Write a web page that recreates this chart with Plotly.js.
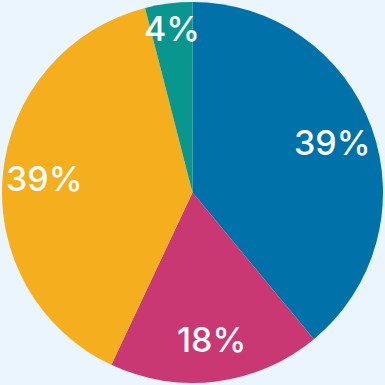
<!DOCTYPE html>
<html>
<head>
<meta charset="utf-8">
<script src="https://cdn.plot.ly/plotly-3.0.1.min.js"></script>
<style>
html,body{margin:0;padding:0;background:#ebf5fd;}
#chart{width:385px;height:385px;}
</style>
</head>
<body>
<div id="chart"></div>
<script>
const categories = ["Category A", "Category B", "Category C", "Category D"];
const values = [39, 18, 39, 4];
const colors = ["#0171a9", "#c93873", "#f4ae1e", "#08968f"];

const trace = {
  type: "pie",
  labels: categories,
  values: values,
  sort: false,
  direction: "clockwise",
  rotation: 0,
  marker: {colors: colors, line: {width: 0}},
  textinfo: "none",
  hoverinfo: "none"
};

// percentage labels placed on each slice's bisector, computed from the values
const total = values.reduce((a, b) => a + b, 0);
let cum = 0;
const annotations = values.map((v, i) => {
  const mid = (cum + v / 2) / total * 2 * Math.PI;
  cum += v;
  const f = v / total < 0.1 ? 0.87 : 0.78;
  return {
    xref: "paper", yref: "paper",
    x: 0.5 + 0.5 * f * Math.sin(mid),
    y: 0.5 + 0.5 * f * Math.cos(mid),
    text: Math.round(v / total * 100) + "%",
    showarrow: false,
    xanchor: "center", yanchor: "middle",
    font: {family: "Inter, 'Open Sans', sans-serif", size: 34, color: "#ffffff", weight: 500}
  };
});

const layout = {
  width: 385,
  height: 385,
  margin: {l: 2, r: 2, t: 2, b: 2},
  paper_bgcolor: "#ebf5fd",
  plot_bgcolor: "#ebf5fd",
  showlegend: false,
  annotations: annotations
};

Plotly.newPlot("chart", [trace], layout, {displayModeBar: false, staticPlot: true});
</script>
</body>
</html>
